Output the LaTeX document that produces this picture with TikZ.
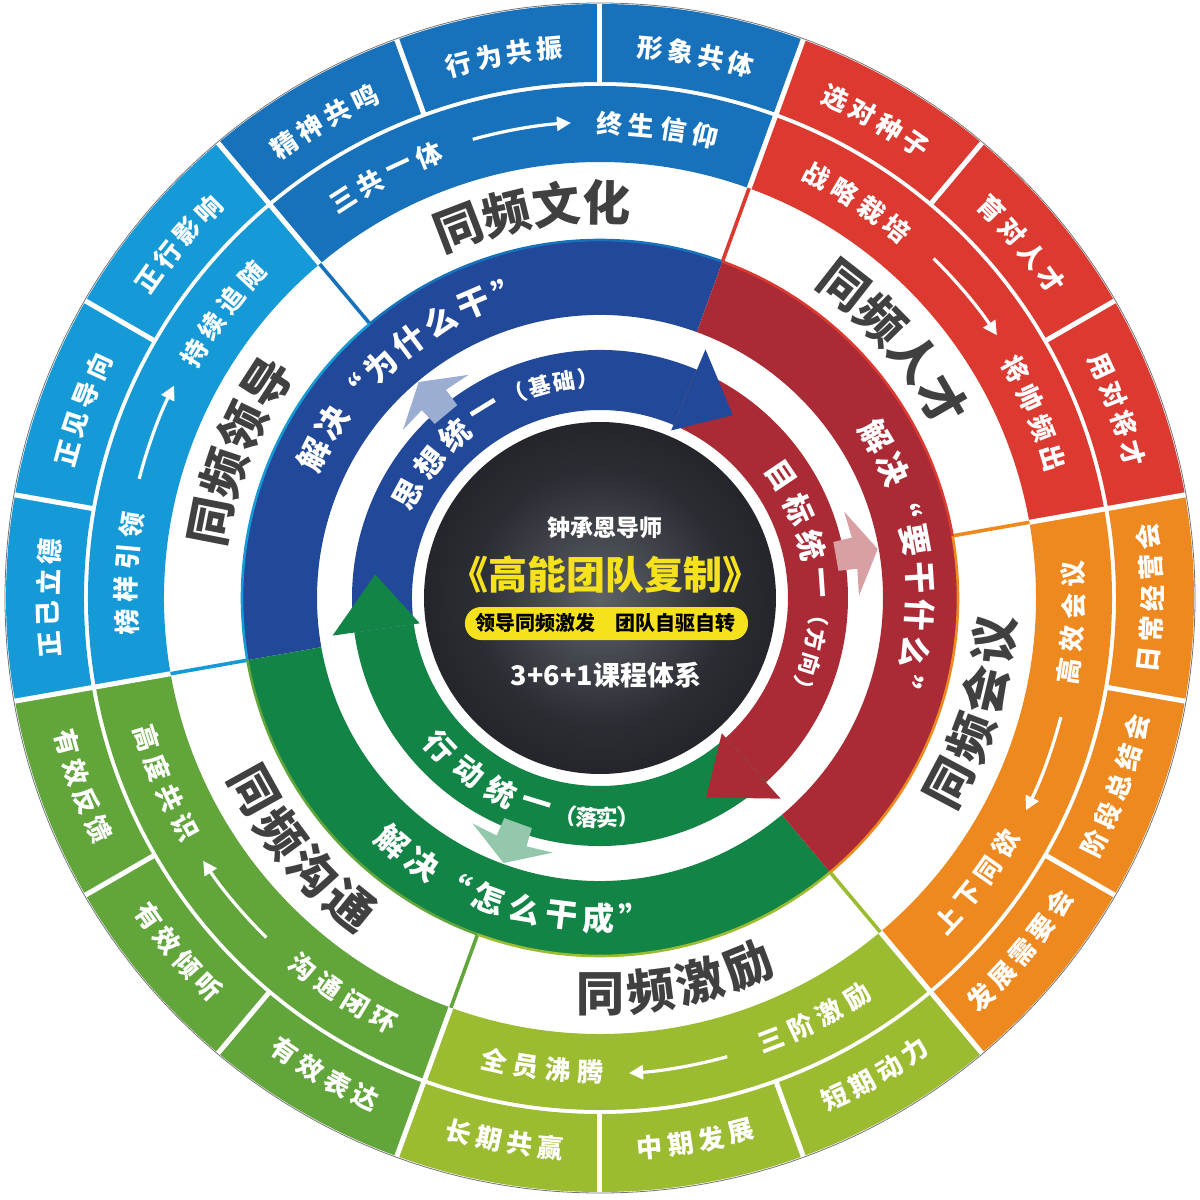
\documentclass[tikz,border=0pt]{standalone}
\usepackage{fontspec}
\setmainfont{Noto Sans CJK SC}
\usetikzlibrary{arrows.meta}

\definecolor{wenhua}{RGB}{24,114,187}
\definecolor{lingdao}{RGB}{22,154,215}
\definecolor{goutong}{RGB}{97,165,59}
\definecolor{jili}{RGB}{155,187,48}
\definecolor{huiyi}{RGB}{238,137,31}
\definecolor{rencai}{RGB}{220,58,48}
\definecolor{bandblue}{RGB}{34,72,154}
\definecolor{bandred}{RGB}{170,43,53}
\definecolor{bandgreen}{RGB}{18,132,70}
\definecolor{labelgray}{RGB}{64,64,64}
\definecolor{titleyellow}{RGB}{246,226,28}
\definecolor{discgray}{RGB}{92,96,104}
\definecolor{discdark}{RGB}{10,11,16}
\colorlet{discmid}{discgray!40!discdark}
\pgfdeclareradialshading{discshade}{\pgfpoint{0bp}{0bp}}{color(0bp)=(discgray); color(18bp)=(discmid); color(50bp)=(discdark)}

\tikzset{
  ringlabel/.style={text=white, font=\bfseries\fontsize{13pt}{13pt}\selectfont, inner sep=0pt},
  bandlabel/.style={text=white, font=\bfseries\fontsize{16pt}{16pt}\selectfont, inner sep=0pt},
  sectorlabel/.style={text=labelgray, font=\bfseries\fontsize{24pt}{24pt}\selectfont, inner sep=0pt},
  innerbig/.style={text=white, font=\bfseries\fontsize{15pt}{15pt}\selectfont, inner sep=0pt},
  innersmall/.style={text=white, font=\bfseries\fontsize{11pt}{11pt}\selectfont, inner sep=0pt},
  flowarrow/.style={white, line width=1.6pt, -{Triangle[length=7pt, width=7pt]}},
  gap/.style={white, line width=2.5pt},
}

% piece of a ring: colour, from angle, to angle, inner radius, outer radius
\newcommand{\ringseg}[5]{\fill[#1] (#2:#4) arc[start angle=#2, end angle=#3, radius=#4] -- (#3:#5) arc[start angle=#3, end angle=#2, radius=#5] -- cycle;}
% characters one by one round the circle: radius, first angle, step, turn, style, characters
\newcommand{\ringtext}[6]{\foreach \ch [count=\k from 0] in {#6} \node[#5, rotate={#2+\k*(#3)+(#4)}] at ({#2+\k*(#3)}:#1) {\ch};}
% pale arrow in the white gap: angle, colour
\newcommand{\ghost}[2]{\fill[#2] (#1-9.5:259) -- (#1:282) -- (#1+9.5:259) -- (#1+3.5:259) -- (#1+3.5:240) -- (#1-3.5:240) -- (#1-3.5:259) -- cycle;}

\begin{document}
\begin{tikzpicture}[x=0.5pt,y=0.5pt]
\fill[white] (-600,-602) rectangle (600,598);
\useasboundingbox (-600,-602) rectangle (600,598);

% outer two rings, one colour per sector
\foreach \a/\col in {70/wenhua,130/lingdao,190/goutong,250/jili,310/huiyi,10/rencai} {
  \ringseg{\col}{\a}{\a+60}{516}{594}
  \ringseg{\col}{\a}{\a+60}{436}{512}
}
\foreach \a in {10,30,...,350} \draw[gap] (\a:514) -- (\a:597);
\foreach \a in {10,70,...,310} \draw[gap] (\a:436) -- (\a:514);

% thick band
\ringseg{bandblue}{70}{190}{283}{358}
\ringseg{bandgreen}{190}{310}{283}{358}
\ringseg{bandred}{-50}{70}{283}{358}

% rims and thin dividers of the white ring
\foreach \a/\col in {70/wenhua,130/lingdao,190/goutong,250/jili,310/huiyi,10/rencai} {
  \draw[\col, line width=1.3pt] (\a:358) arc[start angle=\a, end angle=\a+60, radius=358];
  \draw[\col, line width=1.8pt] (\a+60:358) -- (\a+60:436);
}

% inner arrows: bodies
\fill[bandblue] (188:188) arc[start angle=188, end angle=67, radius=188] -- (67:248) arc[start angle=67, end angle=188, radius=248] -- cycle;
\fill[bandred] (67:188) arc[start angle=67, end angle=-48, radius=188] -- (-48:248) arc[start angle=-48, end angle=67, radius=248] -- cycle;
\fill[bandgreen] (-48:188) arc[start angle=-48, end angle=-172, radius=188] -- (-172:248) arc[start angle=-172, end angle=-48, radius=248] -- cycle;
% inner arrows: heads
\fill[bandblue] (67:182) -- (54:226) -- (67:270) -- cycle;
\fill[bandred] (-48:182) -- (-62:226) -- (-48:270) -- cycle;
\fill[bandgreen] (-172:182) -- (-186:226) -- (-172:270) -- cycle;

% pale arrows
\ghost{130}{bandblue!45!white}
\ghost{10}{bandred!45!white}
\ghost{250}{bandgreen!45!white}

% centre
\shade[shading=discshade] (0,0) circle (176);
\node[text=white, font=\bfseries\fontsize{11.5pt}{12pt}\selectfont] (teacher) at (5,70) {钟承恩导师};
\node[text=titleyellow, font=\bfseries\fontsize{19.5pt}{20pt}\selectfont] (title) at (6,23) {《高能团队复制》};
\fill[titleyellow, rounded corners=8pt] (-135,-42) rectangle (148,-9);
\node[text=black, font=\bfseries\fontsize{10pt}{10pt}\selectfont] (slogan) at (6,-25) {领导同频激发\hspace{1em}团队自驱自转};
\node[text=white, font=\bfseries\fontsize{13.5pt}{14pt}\selectfont] (course) at (6,-77) {3+6+1课程体系};

% outer ring texts
\ringtext{552}{84.8}{-3.2}{-90}{ringlabel}{形,象,共,体}
\ringtext{552}{104.8}{-3.2}{-90}{ringlabel}{行,为,共,振}
\ringtext{552}{124.8}{-3.2}{-90}{ringlabel}{精,神,共,鸣}
\ringtext{552}{144.8}{-3.2}{-90}{ringlabel}{正,行,影,响}
\ringtext{552}{164.8}{-3.2}{-90}{ringlabel}{正,见,导,向}
\ringtext{552}{184.8}{-3.2}{-90}{ringlabel}{正,己,立,德}
\ringtext{552}{24.8}{-3.2}{-90}{ringlabel}{用,对,将,才}
\ringtext{552}{44.8}{-3.2}{-90}{ringlabel}{育,对,人,才}
\ringtext{552}{64.8}{-3.2}{-90}{ringlabel}{选,对,种,子}
\ringtext{552}{195.2}{3.2}{90}{ringlabel}{有,效,反,馈}
\ringtext{552}{215.2}{3.2}{90}{ringlabel}{有,效,倾,听}
\ringtext{552}{235.2}{3.2}{90}{ringlabel}{有,效,表,达}
\ringtext{552}{255.2}{3.2}{90}{ringlabel}{长,期,共,赢}
\ringtext{552}{275.2}{3.2}{90}{ringlabel}{中,期,发,展}
\ringtext{552}{295.2}{3.2}{90}{ringlabel}{短,期,动,力}
\ringtext{552}{313.6}{3.2}{90}{ringlabel}{发,展,需,要,会}
\ringtext{552}{333.6}{3.2}{90}{ringlabel}{阶,段,总,结,会}
\ringtext{552}{353.6}{3.2}{90}{ringlabel}{日,常,经,营,会}

% second ring texts and arrows
\ringtext{474}{122.85}{-3.9}{-90}{ringlabel}{三,共,一,体}
\ringtext{474}{88.85}{-3.9}{-90}{ringlabel}{终,生,信,仰}
\ringtext{474}{182.85}{-3.9}{-90}{ringlabel}{榜,样,引,领}
\ringtext{474}{148.85}{-3.9}{-90}{ringlabel}{持,续,追,随}
\ringtext{474}{62.85}{-3.9}{-90}{ringlabel}{战,略,栽,培}
\ringtext{474}{28.85}{-3.9}{-90}{ringlabel}{将,帅,频,出}
\ringtext{474}{351.15}{3.9}{90}{ringlabel}{高,效,会,议}
\ringtext{474}{317.15}{3.9}{90}{ringlabel}{上,下,同,欲}
\ringtext{474}{291.15}{3.9}{90}{ringlabel}{三,阶,激,励}
\ringtext{474}{257.15}{3.9}{90}{ringlabel}{全,员,沸,腾}
\ringtext{474}{231.15}{3.9}{90}{ringlabel}{沟,通,闭,环}
\ringtext{474}{197.15}{3.9}{90}{ringlabel}{高,度,共,识}
\foreach \a in {10,70,...,310}
  \draw[flowarrow] (\a+35.5:476) arc[start angle=\a+35.5, end angle=\a+23.5, radius=476];

% sector names
\ringtext{396}{110.95}{-7.3}{-90}{sectorlabel}{同,频,文,化}
\ringtext{396}{51.95}{-7.3}{-90}{sectorlabel}{同,频,人,才}
\ringtext{396}{168.95}{-7.3}{-90}{sectorlabel}{同,频,领,导}
\ringtext{396}{332.05}{7.3}{90}{sectorlabel}{同,频,会,议}
\ringtext{396}{270.05}{7.3}{90}{sectorlabel}{同,频,激,励}
\ringtext{396}{209.05}{7.3}{90}{sectorlabel}{同,频,沟,通}

% thick band texts
\ringtext{320}{153.45}{-6.7}{-90}{bandlabel}{解,决,“,为,什,么,干,”}
\ringtext{320}{30.45}{-6.7}{-90}{bandlabel}{解,决,“,要,干,什,么,”}
\ringtext{320}{229.55}{6.7}{90}{bandlabel}{解,决,“,怎,么,干,成,”}

% inner band texts
\ringtext{218}{151.5}{-10}{-90}{innerbig}{思,想,统,一}
\ringtext{220}{112.5}{-6.5}{-90}{innersmall}{（,基,础,）}
\ringtext{218}{34}{-10}{-90}{innerbig}{目,标,统,一}
\ringtext{220}{-4.5}{-6.5}{-90}{innersmall}{（,方,向,）}
\ringtext{218}{223}{10}{90}{innerbig}{行,动,统,一}
\ringtext{220}{261}{5.5}{90}{innersmall}{（,落,实,）}

\draw[black!55, line width=0.4pt] (0,0) circle (595);
\end{tikzpicture}
\end{document}
